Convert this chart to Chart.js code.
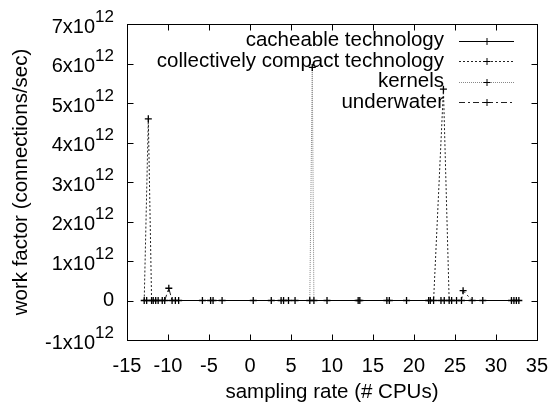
<!DOCTYPE html>
<html>
<head>
<meta charset="utf-8">
<script src="https://cdn.jsdelivr.net/npm/chart.js@4.4.1/dist/chart.umd.min.js"></script>
<style>
  html, body { margin: 0; padding: 0; background: #fff; }
  #wrap { width: 554px; height: 403px; }
</style>
</head>
<body>
<div id="wrap"><canvas id="chart" width="554" height="403"></canvas></div>
<script>
// series labels
const seriesNames = ['cacheable technology', 'collectively compact technology', 'kernels', 'underwater'];

// sampling rate (# CPUs) / work factor (connections/sec)
const cacheableX = [-12.6, -11.5, -8.7, -4.5, 2.6, 4.7, 9.4, 16.7, 21.8, 24.6, 28.4, 32.8];
const cacheableY = [0, 0, 0, 0, 0, 0, 0, 0, 0, 0, 0, 0];

const compactX = [-12.9, -12.4, -12.0, -10.7, -5.8, 0.4, 4.1, 13.2, 19.1, 22.4, 23.6, 24.3, 31.9];
const compactY = [0, 4.6e12, 0, 0, 0, 0, 0, 0, 0, 0, 5.35e12, 0, 0];

const kernelsX = [-11.8, -11.2, -4.8, 3.8, 5.5, 7.3, 7.6, 7.8, 13.4, 17.0, 22.0, 25.2, 32.2];
const kernelsY = [0, 0, 0, 0, 0, 0, 5.9e12, 0, 0, 0, 0, 0, 0];

const underwaterX = [-10.4, -9.9, -9.5, -9.1, -3.4, 23.3, 23.7, 25.8, 26.0, 27.1, 32.5];
const underwaterY = [0, 0.31e12, 0, 0, 0, 0, 0, 0, 0.25e12, 0, 0];

// axis ticks
const yTickValues = [-1e12, 0, 1e12, 2e12, 3e12, 4e12, 5e12, 6e12, 7e12];
const yTickBase = ['-1x10', '0', '1x10', '2x10', '3x10', '4x10', '5x10', '6x10', '7x10'];
const yTickSup = ['12', '', '12', '12', '12', '12', '12', '12', '12'];

const FONT = 'Liberation Sans, Arial, Helvetica, sans-serif';

const styles = [
  { color: '#000', dash: [] },
  { color: '#222', dash: [2, 2] },
  { color: '#888', dash: [1, 1] },
  { color: '#222', dash: [6, 3, 2, 3] },
];

const pts = (xs, ys) => xs.map((x, i) => ({ x, y: ys[i] }));
const rawData = [pts(cacheableX, cacheableY), pts(compactX, compactY), pts(kernelsX, kernelsY), pts(underwaterX, underwaterY)];

// gnuplot style frame, inward ticks, y labels with exponents and key
const gnuFrame = {
  id: 'gnuFrame',
  afterDraw(chart) {
    const { ctx, chartArea: a, scales: { x, y } } = chart;
    ctx.save();
    ctx.strokeStyle = '#000';
    ctx.lineWidth = 1;
    ctx.setLineDash([]);
    const L = Math.round(a.left) + 0.5, R = Math.round(a.right) + 0.5;
    const T = Math.round(a.top) + 0.5, B = Math.round(a.bottom) + 0.5;
    ctx.strokeRect(L, T, R - L, B - T);
    ctx.beginPath();
    x.ticks.forEach((t, i) => {
      const px = Math.round(x.getPixelForTick(i)) + 0.5;
      ctx.moveTo(px, B); ctx.lineTo(px, B - 6);
      ctx.moveTo(px, T); ctx.lineTo(px, T + 6);
    });
    yTickValues.forEach(v => {
      const py = Math.round(y.getPixelForValue(v)) + 0.5;
      ctx.moveTo(L, py); ctx.lineTo(L + 6, py);
      ctx.moveTo(R, py); ctx.lineTo(R - 6, py);
    });
    ctx.stroke();

    // y tick labels
    ctx.fillStyle = '#000';
    ctx.textBaseline = 'middle';
    const right = 114;
    yTickValues.forEach((v, i) => {
      const py = y.getPixelForValue(v);
      ctx.font = '17px ' + FONT;
      const sw = ctx.measureText(yTickSup[i]).width;
      ctx.textAlign = 'right';
      if (yTickSup[i]) {
        ctx.fillText(yTickSup[i], right, py - 7);
        ctx.font = '20px ' + FONT;
        ctx.fillText(yTickBase[i], right - sw, py + 3);
      } else {
        ctx.font = '20px ' + FONT;
        ctx.fillText(yTickBase[i], right, py);
      }
    });

    // key
    ctx.font = '20.5px ' + FONT;
    seriesNames.forEach((name, i) => {
      const ky = 40.5 + i * 20.5;
      ctx.textAlign = 'right';
      ctx.fillStyle = '#000';
      ctx.fillText(name, 444, ky);
      const s = styles[i];
      ctx.strokeStyle = s.color;
      ctx.setLineDash(s.dash);
      ctx.beginPath();
      ctx.moveTo(459, Math.round(ky) + 0.5);
      ctx.lineTo(514, Math.round(ky) + 0.5);
      ctx.stroke();
      ctx.setLineDash([]);
      ctx.strokeStyle = '#000';
      ctx.beginPath();
      ctx.moveTo(483.5, Math.round(ky) + 0.5); ctx.lineTo(490.5, Math.round(ky) + 0.5);
      ctx.moveTo(487, Math.round(ky) - 3); ctx.lineTo(487, Math.round(ky) + 4);
      ctx.stroke();
    });
    ctx.restore();
  }
};

new Chart(document.getElementById('chart'), {
  type: 'line',
  data: {
    datasets: rawData.map((d, i) => ({
      label: seriesNames[i],
      data: d,
      borderColor: styles[i].color,
      borderDash: styles[i].dash,
      borderWidth: 1,
      tension: 0,
      fill: false,
      pointStyle: 'cross',
      pointRadius: 3.5,
      pointBorderWidth: 1.3,
      pointBorderColor: '#000',
      pointBackgroundColor: '#000',
    }))
  },
  options: {
    responsive: false,
    animation: false,
    layout: { padding: { top: 24, right: 16, bottom: 0, left: 0 } },
    plugins: { legend: { display: false }, tooltip: { enabled: false } },
    scales: {
      x: {
        type: 'linear',
        min: -15, max: 35,
        grid: { display: false },
        border: { display: false },
        ticks: { stepSize: 5, color: '#000', padding: 6, font: { family: FONT, size: 20 } },
        title: { display: true, text: 'sampling rate (# CPUs)', color: '#000', padding: { top: 0, bottom: 0 }, font: { family: FONT, size: 20.5, lineHeight: 1 } },
        afterFit(scale) { scale.height = 63; }
      },
      y: {
        type: 'linear',
        min: -1e12, max: 7e12,
        grid: { display: false },
        border: { display: false },
        ticks: { display: false, stepSize: 1e12 },
        title: { display: true, text: 'work factor (connections/sec)', color: '#000', padding: { top: 11, bottom: 0 }, font: { family: FONT, size: 20.5, lineHeight: 1 } },
        afterFit(scale) { scale.width = 127; }
      }
    }
  },
  plugins: [gnuFrame]
});
</script>
</body>
</html>
